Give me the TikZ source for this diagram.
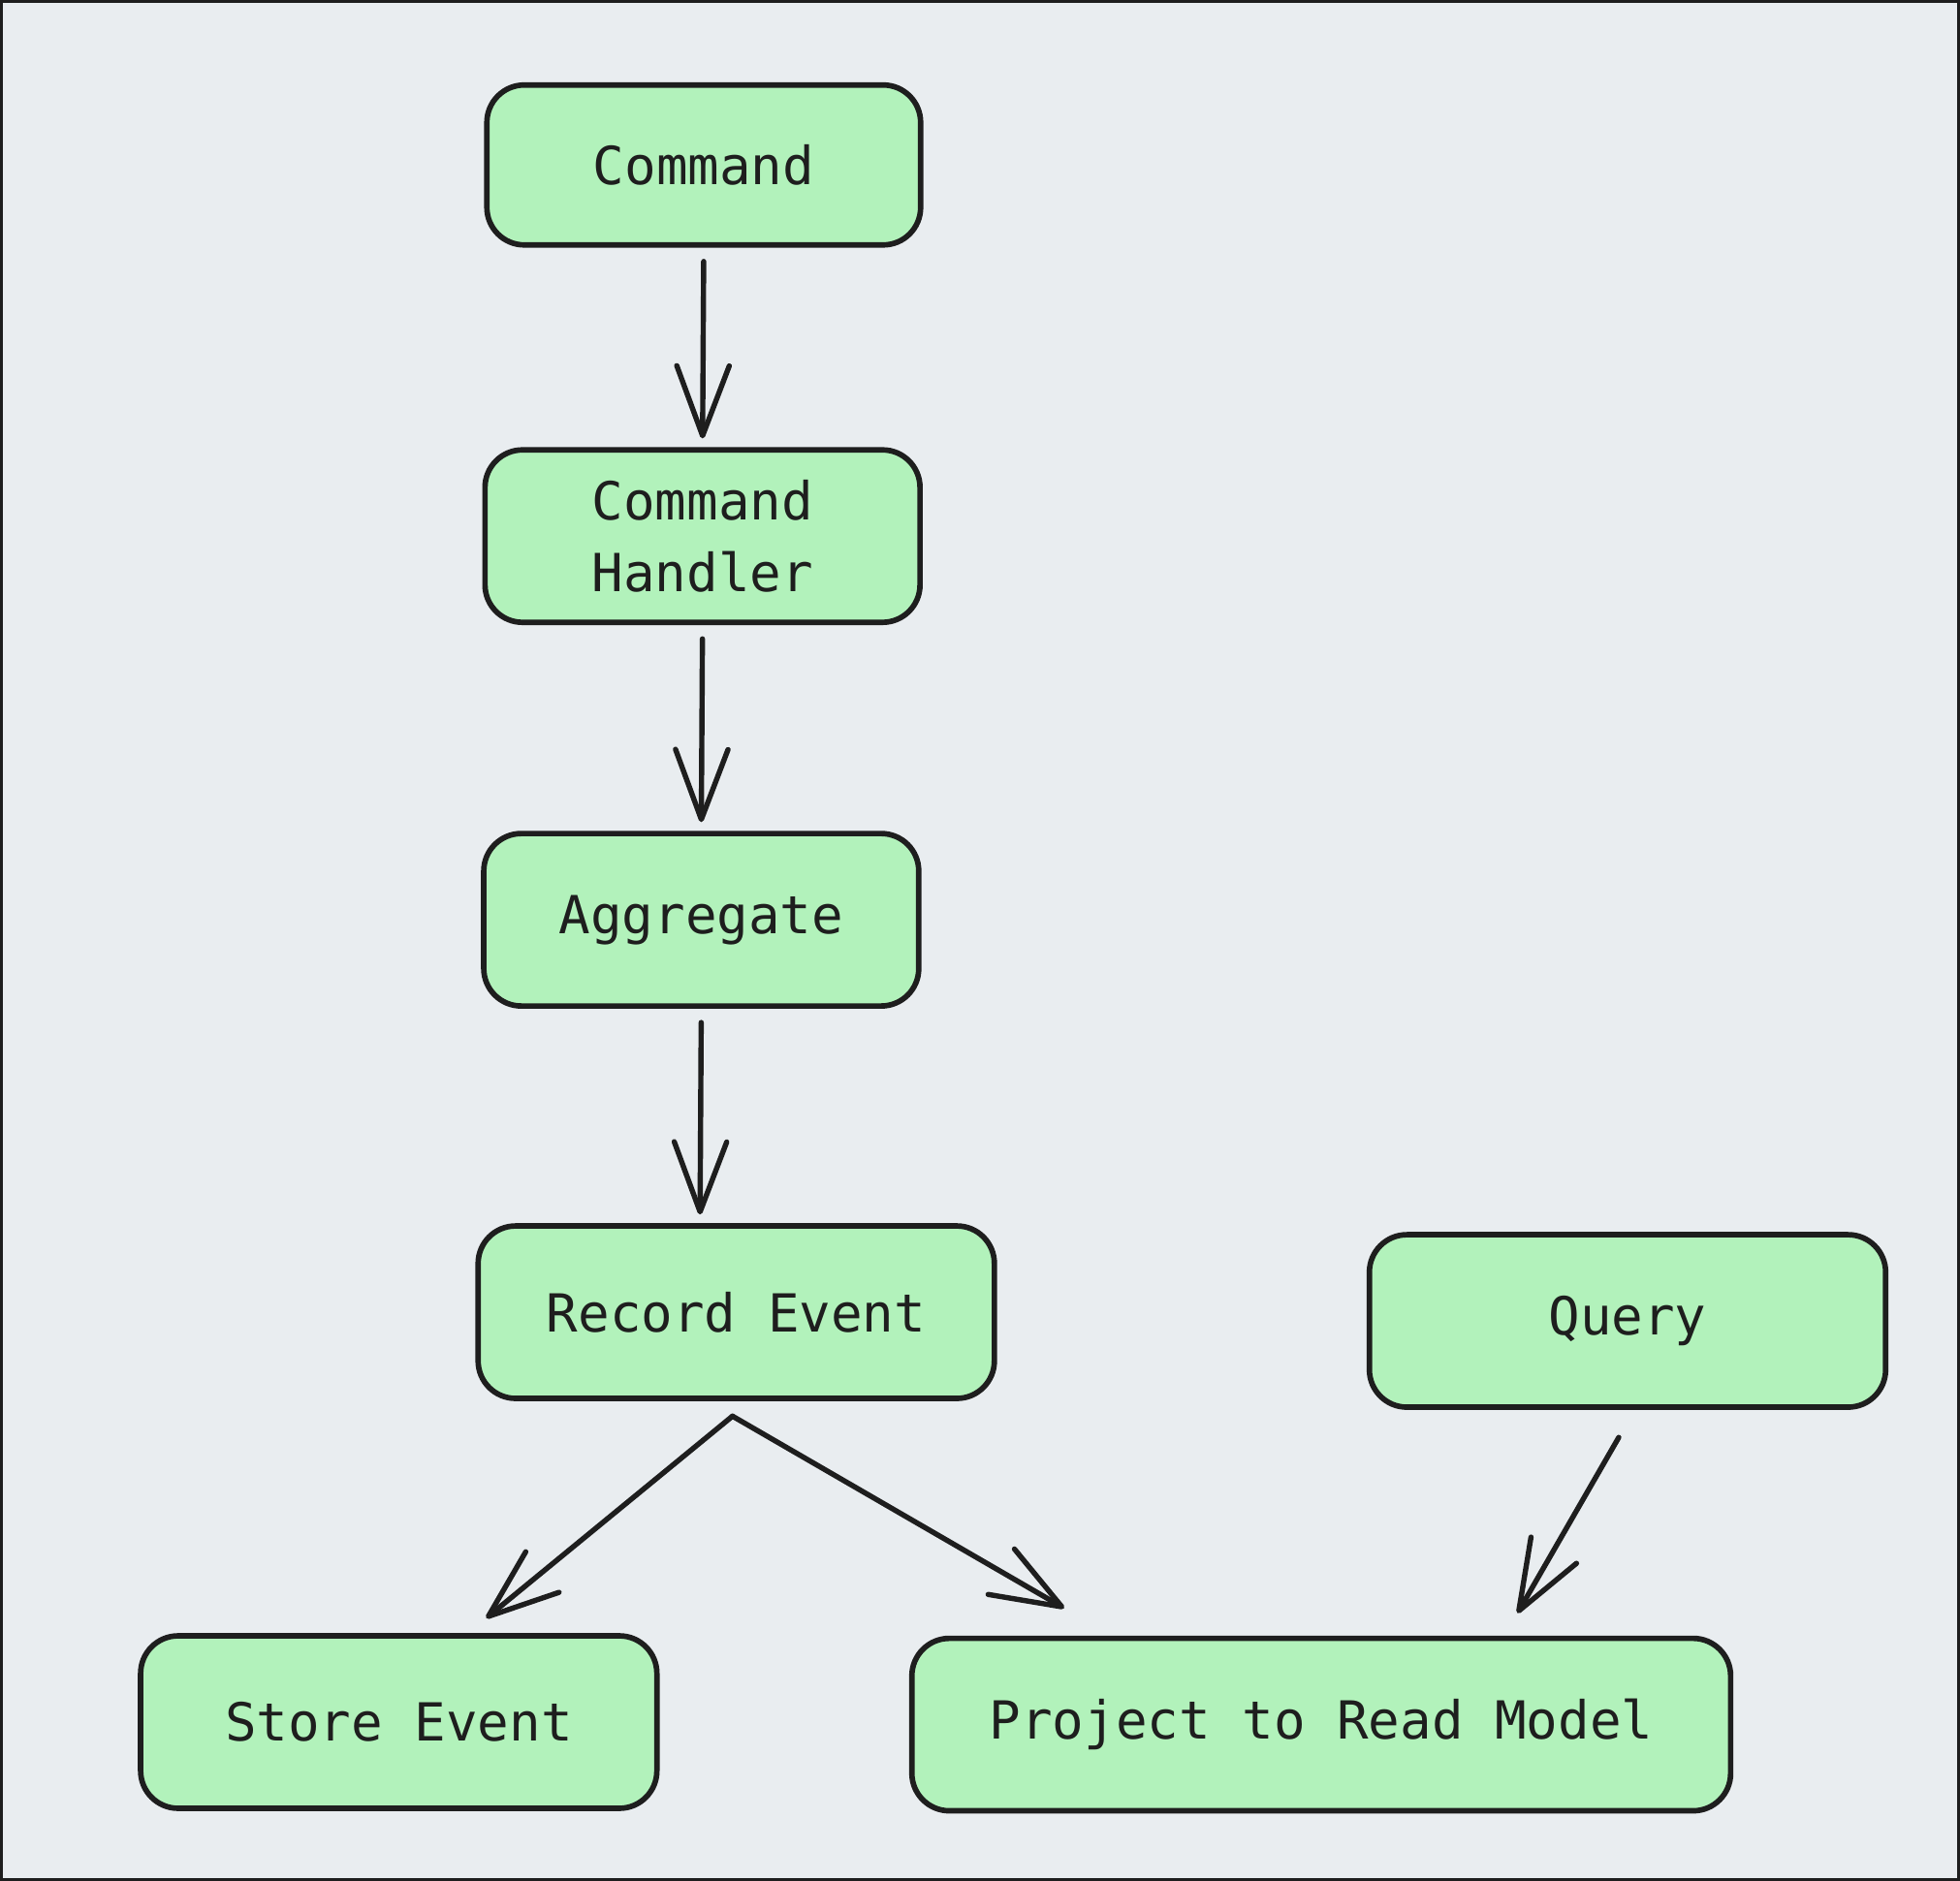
\documentclass[tikz,border=0pt]{standalone}
\usepackage{fontspec}
\setmonofont{DejaVu Sans Mono}
\usetikzlibrary{arrows.meta}
\definecolor{sketch-bg}{HTML}{E9EDF0}
\definecolor{sketch-green}{HTML}{B2F2BB}
\definecolor{sketch-ink}{HTML}{1E1E1E}
\tikzset{
    step-box/.style = {draw=sketch-ink, fill=sketch-green, line width=2.2pt, rectangle, rounded corners=15pt, align=center, text=sketch-ink, font=\ttfamily\fontsize{21}{29}\selectfont, minimum width=206.5pt, minimum height=69pt},
    flow-arrow/.style = {draw=sketch-ink, line width=2.1pt, line cap=round, shorten <=5.5pt, shorten >=3.5pt, -{Straight Barb[round, length=28pt, width=21pt]}},
}
\begin{document}
\begin{tikzpicture}[x=0.5pt, y=-0.5pt]
\useasboundingbox (0,0) rectangle (1568,1505);
\fill[sketch-bg] (0,0) rectangle (1568,1505);
\draw[sketch-ink, line width=1.2pt] (1.2,1.2) rectangle (1566.8,1503.8);

\node [step-box, minimum width=173.5pt, minimum height=64pt] (command) at (563,132) {Command};
\node [step-box, minimum width=174pt] (handler) at (562,429) {Command\\Handler};
\node [step-box, minimum width=174pt] (aggregate) at (561,736) {Aggregate};
\node [step-box] (record) at (589,1050) {Record Event};
\node [step-box] (query) at (1302,1057) {Query};
\node [step-box] (store) at (319,1378) {Store Event};
\node [step-box, minimum width=327.5pt] (project) at (1057,1380) {Project to Read Model};

\draw [flow-arrow] (command.south) -- (handler.north);
\draw [flow-arrow] (handler.south) -- (aggregate.north);
\draw [flow-arrow] (aggregate.south) -- ([xshift=-14.5pt]record.north);
\draw [flow-arrow, shorten <=0pt, shorten >=0pt] ([shift={(-3,12)}]record.south) -- ([shift={(70,-12)}]store.north);
\draw [flow-arrow, shorten <=0pt, shorten >=0pt] ([shift={(-3,12)}]record.south) -- ([shift={(124,-22)}]project.north west);
\draw [flow-arrow, shorten <=0pt, shorten >=0pt] ([shift={(-7,22)}]query.south) -- ([shift={(157,-18)}]project.north);
\end{tikzpicture}
\end{document}
